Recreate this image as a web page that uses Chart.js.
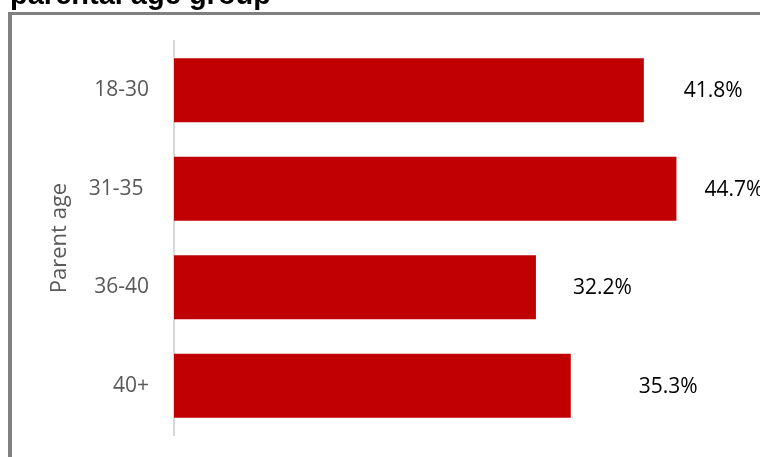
<!DOCTYPE html>
<html>
<head>
<meta charset="utf-8">
<script src="https://cdn.jsdelivr.net/npm/chart.js@4/dist/chart.umd.min.js"></script>
<style>
  html, body { margin: 0; padding: 0; background: #fff; }
  #wrap { width: 760px; height: 457px; position: relative; }
</style>
</head>
<body>
<div id="wrap"><canvas id="ageChart" width="760" height="457"></canvas></div>
<script>
// share of respondents by parental age group
const ageGroups = ['18-30', '31-35 ', '36-40', '40+'];
const shares = [41.8, 44.7, 32.2, 35.3];
const xMin = 0;
const xMax = 50;

const font = "'Open Sans', 'Noto Sans', sans-serif";

// heading (sits above the frame, partly cut off) and the grey frame lines
const framePlugin = {
  id: 'frame',
  beforeDraw(chart) {
    const ctx = chart.ctx;
    ctx.save();
    ctx.fillStyle = '#808080';
    ctx.fillRect(8, 12, chart.width - 8, 3);
    ctx.fillRect(8, 12, 4, chart.height - 12);
    ctx.fillStyle = '#000';
    ctx.font = "bold 29px 'Liberation Sans', Arial, sans-serif";
    ctx.textAlign = 'left';
    ctx.textBaseline = 'alphabetic';
    ctx.fillText('parental age group', 10, 4);
    ctx.restore();
  }
};

// percentage labels to the right of each bar
const valueLabels = {
  id: 'valueLabels',
  afterDatasetsDraw(chart, args, opts) {
    const ctx = chart.ctx;
    const meta = chart.getDatasetMeta(0);
    ctx.save();
    ctx.font = '21px ' + font;
    ctx.fillStyle = '#000';
    ctx.textAlign = 'left';
    ctx.textBaseline = 'middle';
    meta.data.forEach((bar, i) => {
      const v = chart.data.datasets[0].data[i];
      ctx.fillText(v.toFixed(1) + '%', bar.x + opts.gaps[i], bar.y + 1);
    });
    ctx.restore();
  }
};

new Chart(document.getElementById('ageChart'), {
  type: 'bar',
  data: {
    labels: ageGroups,
    datasets: [{
      data: shares,
      backgroundColor: '#C00000',
      borderWidth: 0,
      categoryPercentage: 1,
      barPercentage: 0.65
    }]
  },
  options: {
    indexAxis: 'y',
    responsive: false,
    animation: false,
    layout: { padding: { top: 41, bottom: 22, right: 24, left: 0 } },
    scales: {
      x: {
        display: false,
        min: xMin,
        max: xMax
      },
      y: {
        grid: { display: false },
        border: { display: true, color: '#d9d9d9', width: 2 },
        ticks: {
          color: '#595959',
          font: { family: font, size: 21 },
          padding: 17
        },
        title: {
          display: true,
          text: 'Parent age',
          color: '#595959',
          font: { family: font, size: 22 },
          padding: { top: 47, bottom: 0 }
        },
        afterFit(scale) {
          scale.width = 174;
          // labels sit inside the bands, no extra room needed above/below
          scale.paddingTop = 0;
          scale.paddingBottom = 0;
        }
      }
    },
    plugins: {
      legend: { display: false },
      tooltip: { enabled: false },
      valueLabels: { gaps: [40, 28, 37, 68] }
    }
  },
  plugins: [framePlugin, valueLabels]
});
</script>
</body>
</html>
